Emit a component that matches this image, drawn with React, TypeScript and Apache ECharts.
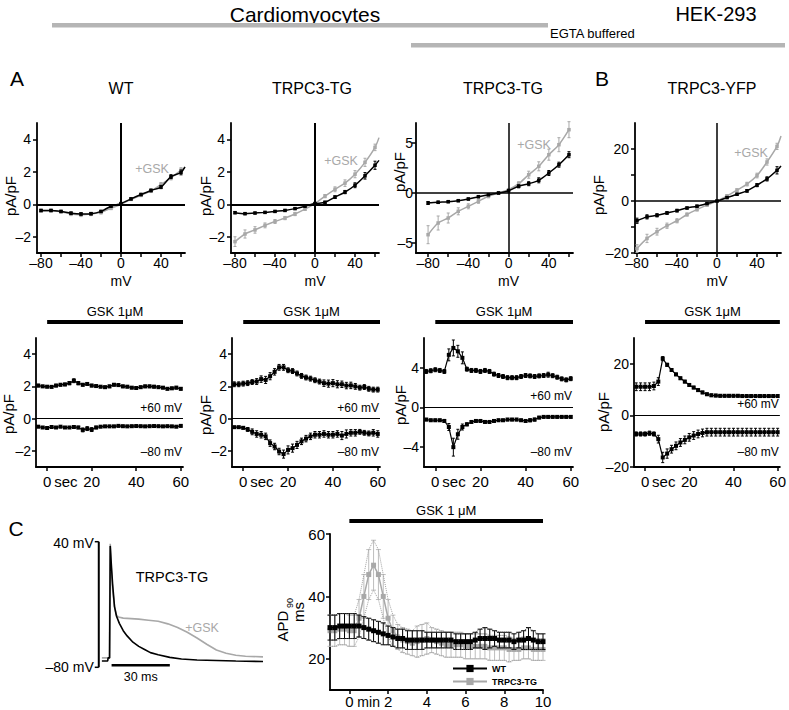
import React, { useEffect, useRef } from "react";
import * as echarts from "echarts";

const FONT = '"Liberation Sans", Arial, Helvetica, sans-serif';
const INK = "#000000";
const GREY = "#a8a8a8";
const BAR_GREY = "#b5b5b5";

// ---------- Panels A/B : current-voltage relations ----------
const V_MV = [-80, -70, -60, -50, -40, -30, -20, -10, 0, 10, 20, 30, 40, 50, 60];

const WT_CTRL = [-0.38, -0.38, -0.44, -0.55, -0.6, -0.58, -0.44, -0.12, 0.04, 0.33, 0.6, 0.85, 1.06, 1.7, 1.96];
const WT_CTRL_ERR = [0.06, 0.06, 0.06, 0.07, 0.07, 0.07, 0.06, 0.06, 0.05, 0.06, 0.07, 0.08, 0.1, 0.12, 0.15];
const WT_GSK = [-0.42, -0.4, -0.46, -0.6, -0.64, -0.6, -0.5, -0.25, 0.0, 0.3, 0.55, 0.82, 1.22, 1.62, 2.1];
const WT_GSK_ERR = [0.08, 0.08, 0.08, 0.1, 0.12, 0.1, 0.1, 0.08, 0.05, 0.06, 0.08, 0.1, 0.12, 0.12, 0.15];
const WT_CTRL_EDGE = [64, 2.3];
const WT_GSK_EDGE = [64, 2.25];

const TG_CTRL = [-0.52, -0.58, -0.54, -0.5, -0.44, -0.38, -0.27, -0.12, 0.04, 0.12, 0.44, 0.75, 1.17, 1.75, 2.4];
const TG_CTRL_ERR = [0.06, 0.06, 0.05, 0.05, 0.05, 0.05, 0.05, 0.05, 0.05, 0.06, 0.08, 0.1, 0.15, 0.2, 0.25];
const TG_GSK = [-2.3, -1.83, -1.58, -1.3, -1.06, -0.85, -0.6, -0.3, 0.04, 0.5, 0.92, 1.3, 1.85, 2.58, 3.5];
const TG_GSK_ERR = [0.3, 0.25, 0.2, 0.15, 0.12, 0.1, 0.1, 0.08, 0.05, 0.1, 0.15, 0.2, 0.22, 0.25, 0.2];
const TG_CTRL_EDGE = [64, 2.7];
const TG_GSK_EDGE = [64, 4.1];

const EG_CTRL = [-1.0, -0.93, -0.87, -0.77, -0.6, -0.37, -0.17, 0.0, 0.23, 0.67, 0.93, 1.27, 2.0, 2.83, 3.83];
const EG_CTRL_ERR = [0.15, 0.12, 0.1, 0.1, 0.1, 0.1, 0.1, 0.1, 0.1, 0.15, 0.2, 0.25, 0.25, 0.25, 0.3];
const EG_GSK = [-4.17, -3.0, -2.5, -1.83, -1.33, -0.83, -0.33, 0.0, 0.33, 0.93, 1.83, 2.67, 3.83, 4.83, 6.33];
const EG_GSK_ERR = [0.9, 0.7, 0.5, 0.35, 0.25, 0.2, 0.15, 0.1, 0.1, 0.2, 0.35, 0.45, 0.55, 0.7, 0.8];

const YFP_CTRL = [-7.6, -6.1, -5.5, -4.6, -3.7, -2.7, -2.0, -1.0, 0.0, 1.3, 2.6, 3.9, 6.1, 8.5, 11.8];
const YFP_CTRL_ERR = [1.0, 0.8, 0.6, 0.5, 0.5, 0.4, 0.4, 0.3, 0.2, 0.3, 0.4, 0.5, 0.6, 0.8, 1.4];
const YFP_GSK = [-18.3, -14.4, -11.8, -9.5, -7.6, -5.2, -3.3, -1.6, 0.0, 2.0, 4.2, 6.5, 9.8, 15.0, 21.0];
const YFP_GSK_ERR = [1.5, 1.6, 1.3, 1.0, 0.8, 0.6, 0.5, 0.3, 0.2, 0.3, 0.5, 0.7, 0.9, 1.2, 1.2];
const YFP_CTRL_EDGE = [64, 13.5];
const YFP_GSK_EDGE = [64, 25];

// ---------- time courses (+60 / -80 mV) ----------
const TIME_S = [-4, -2, 0, 2, 4, 6, 8, 10, 12, 14, 16, 18, 20, 22, 24, 26, 28, 30, 32, 34, 36, 38, 40, 42, 44, 46, 48, 50, 52, 54, 56, 58, 60];

const WT_P60 = [2.05, 2.0, 1.98, 1.97, 2.05, 2.1, 2.12, 2.2, 2.35, 2.2, 2.1, 2.15, 2.05, 2.02, 1.98, 1.95, 2.0, 2.1, 2.08, 2.0, 1.98, 1.92, 1.9, 1.95, 2.0, 2.0, 1.98, 1.95, 1.92, 1.85, 1.88, 1.92, 1.85];
const WT_P60_ERR = [0.08, 0.07, 0.07, 0.07, 0.08, 0.08, 0.08, 0.1, 0.12, 0.1, 0.08, 0.08, 0.08, 0.07, 0.07, 0.07, 0.08, 0.08, 0.08, 0.08, 0.07, 0.07, 0.07, 0.07, 0.08, 0.08, 0.08, 0.07, 0.07, 0.07, 0.07, 0.08, 0.08];
const WT_M80 = [-0.5, -0.55, -0.58, -0.52, -0.55, -0.5, -0.55, -0.55, -0.52, -0.55, -0.7, -0.62, -0.68, -0.55, -0.5, -0.48, -0.48, -0.48, -0.45, -0.47, -0.48, -0.47, -0.46, -0.47, -0.48, -0.47, -0.46, -0.47, -0.48, -0.47, -0.48, -0.5, -0.45];
const WT_M80_ERR = [0.06, 0.06, 0.06, 0.06, 0.06, 0.06, 0.06, 0.06, 0.06, 0.08, 0.12, 0.12, 0.12, 0.08, 0.06, 0.06, 0.06, 0.06, 0.06, 0.06, 0.06, 0.06, 0.06, 0.06, 0.06, 0.06, 0.06, 0.06, 0.06, 0.06, 0.06, 0.06, 0.06];

const TG_P60 = [2.13, 2.13, 2.17, 2.2, 2.27, 2.3, 2.45, 2.4, 2.63, 2.9, 3.18, 3.18, 3.0, 2.95, 2.8, 2.65, 2.55, 2.48, 2.38, 2.3, 2.2, 2.17, 2.2, 2.13, 2.13, 2.05, 2.06, 2.0, 1.92, 1.96, 1.85, 1.8, 1.8];
const TG_P60_ERR = [0.15, 0.15, 0.15, 0.15, 0.15, 0.18, 0.2, 0.22, 0.22, 0.2, 0.18, 0.18, 0.15, 0.15, 0.15, 0.15, 0.15, 0.15, 0.15, 0.15, 0.2, 0.22, 0.22, 0.22, 0.2, 0.2, 0.2, 0.18, 0.15, 0.15, 0.15, 0.15, 0.15];
const TG_M80 = [-0.53, -0.53, -0.57, -0.67, -0.82, -0.95, -1.0, -1.1, -1.52, -1.73, -2.04, -2.2, -1.94, -1.83, -1.63, -1.41, -1.24, -1.1, -1.0, -1.0, -0.95, -1.0, -1.0, -0.95, -1.05, -0.95, -0.88, -0.88, -0.82, -0.88, -0.92, -0.88, -0.95];
const TG_M80_ERR = [0.05, 0.05, 0.08, 0.12, 0.18, 0.2, 0.2, 0.2, 0.2, 0.2, 0.2, 0.25, 0.25, 0.25, 0.22, 0.2, 0.2, 0.2, 0.2, 0.2, 0.2, 0.2, 0.2, 0.2, 0.25, 0.25, 0.2, 0.2, 0.15, 0.15, 0.15, 0.2, 0.2];

const EG_P60 = [3.63, 3.7, 3.8, 3.73, 3.63, 5.3, 6.0, 5.66, 5.0, 3.86, 3.73, 3.73, 3.63, 3.73, 3.63, 3.36, 3.22, 3.12, 3.0, 3.0, 3.0, 3.12, 3.22, 3.18, 3.12, 3.18, 3.22, 3.3, 3.2, 3.05, 2.88, 2.78, 2.9];
const EG_P60_ERR = [0.2, 0.2, 0.2, 0.2, 0.2, 0.6, 0.8, 0.6, 0.6, 0.2, 0.2, 0.2, 0.2, 0.2, 0.2, 0.2, 0.2, 0.2, 0.2, 0.2, 0.2, 0.2, 0.2, 0.2, 0.2, 0.2, 0.2, 0.25, 0.2, 0.2, 0.2, 0.2, 0.2];
const EG_M80 = [-1.22, -1.29, -1.29, -1.29, -1.36, -1.97, -4.0, -2.7, -1.97, -1.7, -1.46, -1.36, -1.36, -1.46, -1.46, -1.36, -1.29, -1.29, -1.22, -1.22, -1.22, -1.29, -1.36, -1.29, -1.22, -1.02, -0.95, -0.95, -0.95, -0.95, -0.95, -0.95, -0.95];
const EG_M80_ERR = [0.12, 0.12, 0.12, 0.12, 0.15, 0.35, 0.9, 0.5, 0.3, 0.15, 0.12, 0.12, 0.12, 0.12, 0.12, 0.12, 0.12, 0.12, 0.12, 0.12, 0.12, 0.12, 0.12, 0.15, 0.15, 0.12, 0.12, 0.12, 0.12, 0.12, 0.12, 0.12, 0.12];

const YFP_P60 = [11.1, 11.1, 11.1, 11.1, 11.4, 13.1, 22.0, 19.6, 17.6, 15.9, 14.4, 13.1, 11.8, 10.8, 9.8, 8.9, 8.2, 7.8, 7.7, 7.6, 7.6, 7.6, 7.6, 7.6, 7.5, 7.5, 7.5, 7.5, 7.5, 7.5, 7.5, 7.5, 7.5];
const YFP_P60_ERR = [1.5, 1.5, 1.5, 1.5, 1.5, 1.5, 0.8, 0.6, 0.5, 0.5, 0.5, 0.5, 0.5, 0.5, 0.5, 0.5, 0.5, 0.5, 0.5, 0.5, 0.5, 0.5, 0.5, 0.5, 0.5, 0.5, 0.5, 0.5, 0.5, 0.5, 0.5, 0.5, 0.5];
const YFP_M80 = [-7.2, -7.2, -7.2, -6.9, -7.2, -9.2, -16.3, -14.8, -13.1, -11.8, -10.5, -9.5, -8.5, -7.8, -7.2, -6.8, -6.5, -6.5, -6.5, -6.5, -6.5, -6.5, -6.5, -6.5, -6.5, -6.5, -6.5, -6.5, -6.5, -6.5, -6.5, -6.5, -6.5];
const YFP_M80_ERR = [0.8, 0.8, 0.8, 0.8, 0.8, 1.5, 2.0, 1.8, 1.5, 1.5, 1.5, 1.5, 1.5, 1.5, 1.5, 1.5, 1.5, 1.5, 1.5, 1.5, 1.5, 1.5, 1.5, 1.5, 1.5, 1.5, 1.5, 1.5, 1.5, 1.5, 1.5, 1.5, 1.5];

// ---------- Panel C : action potentials ----------
const AP_T_CTRL = [1, 4, 4.2, 5, 5.3, 5.8, 6.5, 7.5, 8.5, 10, 12, 14, 17, 20, 23, 26, 30, 36, 42, 50, 60, 70, 84];
const AP_V_CTRL = [-74, -74, -71, -71, 36, 20, 0, -22, -31, -38, -45, -50, -56, -60, -63, -66, -68, -70.5, -72, -73, -73.5, -74, -74.5];
const AP_T_GSK = [1, 4.8, 5.3, 5.8, 6.5, 7.5, 8.5, 9.5, 12, 16, 20, 25, 30, 35, 40, 45, 50, 55, 60, 65, 70, 75, 84];
const AP_V_GSK = [-71, -71, 38, 15, -5, -22, -30, -32, -33, -33.5, -34, -35, -36, -38.5, -42, -46.5, -52, -58, -63.5, -66.5, -68.5, -69.5, -70];

// ---------- Panel C : APD90 time course ----------
const T_MIN = [-1, -0.75, -0.5, -0.25, 0, 0.25, 0.5, 0.75, 1, 1.25, 1.5, 1.75, 2, 2.25, 2.5, 2.75, 3, 3.25, 3.5, 3.75, 4, 4.25, 4.5, 4.75, 5, 5.25, 5.5, 5.75, 6, 6.25, 6.5, 6.75, 7, 7.25, 7.5, 7.75, 8, 8.25, 8.5, 8.75, 9, 9.25, 9.5, 9.75, 10];
const APD_WT = [30, 30, 30.5, 30.5, 30.5, 30.5, 30.5, 30, 29.5, 29, 28.5, 28, 27.5, 27, 26.5, 26.5, 26, 26, 26, 26, 26, 26, 26, 26, 26, 26, 25.5, 25.5, 25.5, 25.5, 26, 26.5, 26.5, 26.5, 26.5, 26, 26, 26, 25.5, 26, 26, 26.5, 26, 25.5, 25.5];
const APD_WT_ERR = [4, 4, 4, 4, 4, 4, 3.5, 3.5, 3.5, 3.5, 3.5, 3.5, 3, 3, 3, 3, 3, 3, 3, 3, 2.5, 2.5, 2.5, 2.5, 2.5, 2.5, 2.5, 2.5, 2.5, 2.5, 2.5, 3, 3.5, 3, 2.5, 2.5, 2.5, 2.5, 2.5, 2.5, 3, 3.5, 3, 2.5, 2.5];
const APD_TG = [29, 29, 29.5, 29.5, 29, 29, 33, 40, 47, 50, 47, 40, 33, 29, 27, 26, 25.5, 25, 25.5, 26, 26.5, 26, 25.5, 25, 24.5, 24.5, 24.5, 24.5, 24, 24, 24, 24, 24, 23.5, 23.5, 23.5, 23.5, 23, 23, 23, 23.5, 23.5, 23, 23, 23];
const APD_TG_ERR = [5, 5, 5, 5, 5, 5, 6, 7, 8, 8, 8, 7, 6, 5, 4, 4, 4, 4, 5, 5, 5, 4, 4, 4, 4, 4, 4, 4, 4, 4, 4, 4, 4, 4, 4, 4, 4, 4, 3.5, 3.5, 3.5, 3.5, 3.5, 3.5, 3.5];

// ---------- helpers ----------
const fmtNum = (v: number) => (v < 0 ? "\u2013" + Math.abs(v) : String(v));

function xAxisCfg(g: number, min: number, max: number, ticks: number[], labels: number[], fontSize: number, margin: number) {
  return {
    type: "value", gridIndex: g, min, max, position: "bottom",
    axisLine: { show: true, onZero: false, lineStyle: { color: INK, width: 1.8 } },
    axisTick: { show: true, customValues: ticks, length: 4, lineStyle: { color: INK, width: 1.5 } },
    axisLabel: { show: true, customValues: labels, formatter: fmtNum, fontSize, color: INK, fontFamily: FONT, margin },
    splitLine: { show: false },
  };
}
function yAxisCfg(g: number, min: number, max: number, ticks: number[], labels: number[], fontSize: number, margin: number) {
  return {
    type: "value", gridIndex: g, min, max, position: "left",
    axisLine: { show: true, onZero: false, lineStyle: { color: INK, width: 1.8 } },
    axisTick: { show: true, customValues: ticks, length: 4, lineStyle: { color: INK, width: 1.5 } },
    axisLabel: { show: true, customValues: labels, formatter: fmtNum, fontSize, color: INK, fontFamily: FONT, margin },
    splitLine: { show: false },
  };
}
function hiddenAxis(g: number, min: number, max: number) {
  return { type: "value", gridIndex: g, min, max, show: false, splitLine: { show: false } };
}

function lineSeries(g: number, xs: number[], ys: number[], color: string, opts: any = {}) {
  const data: any[] = xs.map((x, i) => [x, ys[i]]);
  if (opts.edge) data.push({ value: opts.edge, symbol: "none" });
  return {
    type: "line", name: opts.name, xAxisIndex: g, yAxisIndex: g, data,
    symbol: opts.symbol === undefined ? "rect" : opts.symbol, symbolSize: opts.size || 4,
    smooth: opts.smooth || false,
    lineStyle: { color, width: opts.width || 1.5, type: opts.type || "solid" },
    itemStyle: { color }, z: opts.z || 3, silent: true,
    markLine: opts.markLine,
  };
}

function errSeries(g: number, xs: number[], ys: number[], es: number[], color: string, cap: number, lw = 1, z = 2) {
  return {
    type: "custom", xAxisIndex: g, yAxisIndex: g, silent: true, z,
    data: xs.map((x, i) => [x, ys[i], es[i]]),
    renderItem: (_p: any, api: any) => {
      const x = api.value(0), y = api.value(1), e = api.value(2);
      const a = api.coord([x, y + e]);
      const b = api.coord([x, y - e]);
      const st = { stroke: color, lineWidth: lw };
      return {
        type: "group",
        children: [
          { type: "line", shape: { x1: a[0], y1: a[1], x2: b[0], y2: b[1] }, style: st },
          { type: "line", shape: { x1: a[0] - cap, y1: a[1], x2: a[0] + cap, y2: a[1] }, style: st },
          { type: "line", shape: { x1: b[0] - cap, y1: b[1], x2: b[0] + cap, y2: b[1] }, style: st },
        ],
      };
    },
  };
}

const zeroLines = (w: number, both: boolean) => ({
  silent: true, symbol: ["none", "none"], label: { show: false },
  lineStyle: { color: INK, type: "solid", width: w },
  data: both ? [{ xAxis: 0 }, { yAxis: 0 }] : [{ yAxis: 0 }],
});

function ivSeries(g: number, ctrl: number[], ctrlErr: number[], gsk: number[], gskErr: number[], ctrlEdge: number[] | null, gskEdge: number[] | null, w: number) {
  return [
    lineSeries(g, V_MV, gsk, GREY, { edge: gskEdge, smooth: 0.3, size: 3.5, z: 3, markLine: zeroLines(w, true) }),
    errSeries(g, V_MV, gsk, gskErr, GREY, 1.5, 1, 3),
    lineSeries(g, V_MV, ctrl, INK, { edge: ctrlEdge, smooth: 0.3, size: 3.5, z: 4 }),
    errSeries(g, V_MV, ctrl, ctrlErr, INK, 1.5, 1, 4),
  ];
}

function tSeries(g: number, p60: number[], p60e: number[], m80: number[], m80e: number[]) {
  return [
    lineSeries(g, TIME_S, p60, INK, { size: 4, width: 1.2, markLine: zeroLines(1.2, false) }),
    errSeries(g, TIME_S, p60, p60e, INK, 1.5, 1),
    lineSeries(g, TIME_S, m80, INK, { size: 4, width: 1.2 }),
    errSeries(g, TIME_S, m80, m80e, INK, 1.5, 1),
  ];
}

function buildOption() {
  const grids = [
    { left: 37, top: 123, width: 148, height: 130 },
    { left: 231, top: 123, width: 148, height: 130 },
    { left: 416, top: 123, width: 157, height: 130 },
    { left: 635, top: 123, width: 146, height: 130 },
    { left: 36, top: 338, width: 147, height: 129 },
    { left: 232, top: 338, width: 148, height: 129 },
    { left: 424, top: 338, width: 149, height: 129 },
    { left: 634, top: 338, width: 148, height: 129 },
    { left: 98, top: 541.7, width: 165, height: 125.6 },
    { left: 330, top: 534, width: 213, height: 156 },
  ];
  const ivT = [-80, -60, -40, -20, 0, 20, 40, 60];
  const ivL = [-80, -40, 0, 40];
  const tT = [0, 20, 40, 60];
  const xAxis = [
    xAxisCfg(0, -84, 64, ivT, ivL, 14, 3),
    xAxisCfg(1, -84, 64, ivT, ivL, 14, 3),
    xAxisCfg(2, -92, 64, ivT, ivL, 14, 3),
    xAxisCfg(3, -82, 64, ivT, ivL, 14, 3),
    xAxisCfg(4, -5, 61, tT, tT, 15, 7),
    xAxisCfg(5, -5, 61, tT, tT, 15, 7),
    xAxisCfg(6, -5, 61, tT, tT, 15, 7),
    xAxisCfg(7, -5, 61, tT, tT, 15, 7),
    hiddenAxis(8, -1, 84),
    xAxisCfg(9, -1, 10, [0, 2, 4, 6, 8, 10], [0, 2, 4, 6, 8, 10], 15, 4),
  ];
  const yAxis = [
    yAxisCfg(0, -3, 5, [-2, 0, 2, 4], [-2, 0, 2, 4], 14, 6),
    yAxisCfg(1, -3, 5, [-2, 0, 2, 4], [-2, 0, 2, 4], 14, 6),
    yAxisCfg(2, -6, 7, [-5, 0, 5], [-5, 0, 5], 14, 3),
    yAxisCfg(3, -20, 30, [-20, -10, 0, 10, 20], [-20, 0, 20], 14, 6),
    yAxisCfg(4, -3, 5, [-2, 0, 2, 4], [-2, 0, 2, 4], 14, 5),
    yAxisCfg(5, -3, 5, [-2, 0, 2, 4], [-2, 0, 2, 4], 14, 5),
    yAxisCfg(6, -6, 7, [-4, 0, 4], [-4, 0, 4], 14, 5),
    yAxisCfg(7, -20, 30, [-20, 0, 20], [-20, 0, 20], 14, 5),
    hiddenAxis(8, -80, 40),
    yAxisCfg(9, 10, 60, [20, 40, 60], [20, 40, 60], 15, 5),
  ];
  const envelope = (m: number[], e: number[], s: number) => m.map((v, i) => v + s * e[i]);
  const series: any[] = [
    ...ivSeries(0, WT_CTRL, WT_CTRL_ERR, WT_GSK, WT_GSK_ERR, WT_CTRL_EDGE, WT_GSK_EDGE, 2),
    ...ivSeries(1, TG_CTRL, TG_CTRL_ERR, TG_GSK, TG_GSK_ERR, TG_CTRL_EDGE, TG_GSK_EDGE, 2),
    ...ivSeries(2, EG_CTRL, EG_CTRL_ERR, EG_GSK, EG_GSK_ERR, null, null, 1.5),
    ...ivSeries(3, YFP_CTRL, YFP_CTRL_ERR, YFP_GSK, YFP_GSK_ERR, YFP_CTRL_EDGE, YFP_GSK_EDGE, 1.5),
    ...tSeries(4, WT_P60, WT_P60_ERR, WT_M80, WT_M80_ERR),
    ...tSeries(5, TG_P60, TG_P60_ERR, TG_M80, TG_M80_ERR),
    ...tSeries(6, EG_P60, EG_P60_ERR, EG_M80, EG_M80_ERR),
    ...tSeries(7, YFP_P60, YFP_P60_ERR, YFP_M80, YFP_M80_ERR),
    lineSeries(8, AP_T_GSK, AP_V_GSK, GREY, { symbol: "none", width: 1.6, z: 3 }),
    lineSeries(8, AP_T_CTRL, AP_V_CTRL, INK, { symbol: "none", width: 1.6, z: 4 }),
    // APD90
    errSeries(9, T_MIN, APD_TG, APD_TG_ERR, "#bdbdbd", 2.5, 1, 2),
    lineSeries(9, T_MIN, envelope(APD_TG, APD_TG_ERR, 1), "#a0a0a0", { symbol: "none", width: 1, type: "dotted", z: 2 }),
    lineSeries(9, T_MIN, envelope(APD_TG, APD_TG_ERR, -1), "#a0a0a0", { symbol: "none", width: 1, type: "dotted", z: 2 }),
    lineSeries(9, T_MIN, APD_TG, GREY, { name: "TRPC3-TG", size: 5, width: 1.5, z: 3 }),
    errSeries(9, T_MIN, APD_WT, APD_WT_ERR, INK, 2.5, 1, 4),
    lineSeries(9, T_MIN, envelope(APD_WT, APD_WT_ERR, 1), "#444", { symbol: "none", width: 1, type: "dotted", z: 4 }),
    lineSeries(9, T_MIN, envelope(APD_WT, APD_WT_ERR, -1), "#444", { symbol: "none", width: 1, type: "dotted", z: 4 }),
    lineSeries(9, T_MIN, APD_WT, INK, { name: "WT", size: 5, width: 1.5, z: 5 }),
  ];
  return {
    animation: false,
    backgroundColor: "#ffffff",
    textStyle: { fontFamily: FONT, color: INK },
    grid: grids.map((g) => ({ ...g, containLabel: false })),
    xAxis, yAxis, series,
    legend: {
      data: ["WT", "TRPC3-TG"], left: 452, top: 664, orient: "vertical",
      itemWidth: 34, itemHeight: 9, itemGap: 4, padding: 0, selectedMode: false,
      textStyle: { fontSize: 9, fontWeight: "bold", color: INK, fontFamily: FONT },
    },
  };
}

function txt(x: number, y: number, text: string, size: number, o: any = {}) {
  return {
    type: "text", x, y, silent: true, rotation: o.rot || 0, z: 50,
    style: {
      text, fill: o.color || INK, fontSize: size, fontFamily: FONT, fontWeight: o.weight || "normal",
      textAlign: o.align || "center", align: o.align || "center",
      textVerticalAlign: "middle", verticalAlign: "middle",
    },
  };
}
const rect = (x: number, y: number, w: number, h: number, fill: string) => ({ type: "rect", z: 50, silent: true, shape: { x, y, width: w, height: h }, style: { fill } });
const seg = (x1: number, y1: number, x2: number, y2: number, lw: number, stroke = INK) => ({ type: "line", z: 50, silent: true, shape: { x1, y1, x2, y2 }, style: { stroke, lineWidth: lw } });

function buildGraphics(chart: any) {
  const px = (g: number, x: number, y: number) => chart.convertToPixel({ xAxisIndex: g, yAxisIndex: g }, [x, y]) as number[];
  const R = Math.PI / 2;
  const els: any[] = [
    txt(305, 14, "Cardiomyocytes", 21),
    rect(52, 23, 496, 4.5, BAR_GREY),
    txt(716, 14, "HEK-293", 20),
    txt(550, 33, "EGTA buffered", 13, { align: "left" }),
    rect(411, 43, 374, 4.5, BAR_GREY),
    txt(17, 78, "A", 21),
    txt(602, 78, "B", 21),
    txt(16, 528, "C", 21),
    txt(121, 88, "WT", 16),
    txt(312, 88, "TRPC3-TG", 16),
    txt(503, 88, "TRPC3-TG", 16),
    txt(712, 88, "TRPC3-YFP", 16),
    txt(10, 196, "pA/pF", 15, { rot: R }),
    txt(205, 196, "pA/pF", 15, { rot: R }),
    txt(399, 172, "pA/pF", 15, { rot: R }),
    txt(598, 195, "pA/pF", 15, { rot: R }),
    txt(8, 414, "pA/pF", 15, { rot: R }),
    txt(205, 415, "pA/pF", 15, { rot: R }),
    txt(400, 405, "pA/pF", 15, { rot: R }),
    txt(603, 412, "pA/pF", 15, { rot: R }),
    txt(152, 169, "+GSK", 12.5, { color: GREY }),
    txt(341, 161, "+GSK", 12.5, { color: GREY }),
    txt(534, 145, "+GSK", 12.5, { color: GREY }),
    txt(751, 153, "+GSK", 12.5, { color: GREY }),
    txt(172, 577, "TRPC3-TG", 14.5),
    txt(202, 628, "+GSK", 12.5, { color: GREY }),
    txt(282, 626, "APD", 15, { rot: R }),
    txt(290, 603, "90", 9, { rot: R }),
    txt(298, 612, "ms", 15, { rot: R }),
  ];
  // mV axis names at V = 0
  for (const g of [0, 1, 2, 3]) {
    const z = px(g, 0, 0);
    els.push(txt(z[0], 281, "mV", 14));
  }
  // time course decorations
  const yMin: Record<number, number> = { 4: -3, 5: -3, 6: -6, 7: -20 };
  for (const g of [4, 5, 6, 7]) {
    const a = px(g, 0, 0);
    const e = px(g, 61, 0);
    const b = px(g, 0, yMin[g]);
    els.push(rect(a[0], 320, e[0] - a[0], 4, INK));
    els.push(txt((a[0] + e[0]) / 2, 311, "GSK 1\u03bcM", 13));
    els.push(txt(a[0] + 7, b[1] + 14.5, "sec", 15, { align: "left" }));
    els.push(txt(e[0] - 1, a[1] - 11, "+60 mV", 12, { align: "right" }));
    els.push(txt(e[0] - 1, b[1] - 15, "\u201380 mV", 12, { align: "right" }));
  }
  // APD decorations
  {
    const a = px(9, 0, 10);
    const e = px(9, 10, 10);
    els.push(rect(a[0], 519, e[0] - a[0], 4, INK));
    els.push(txt((a[0] + e[0]) / 2, 510, "GSK 1 \u03bcM", 13));
    els.push(txt(a[0] + 8, a[1] + 11.5, "min", 14, { align: "left" }));
  }
  // AP scale bars
  {
    const t = px(8, -0.6, 40);
    const b = px(8, -0.6, -80);
    els.push(seg(t[0], t[1], b[0], b[1], 2));
    els.push(seg(t[0] - 4, t[1], t[0], t[1], 1.5));
    els.push(seg(b[0] - 4, b[1], b[0], b[1], 1.5));
    els.push(txt(t[0] - 5, t[1] + 1, "40 mV", 14, { align: "right" }));
    els.push(txt(b[0] - 5, b[1], "\u201380 mV", 14, { align: "right" }));
    const s1 = px(8, 6, -78);
    const s2 = px(8, 36, -78);
    els.push(seg(s1[0], s1[1], s2[0], s2[1], 2.5));
    els.push(txt((s1[0] + s2[0]) / 2, s1[1] + 12, "30 ms", 12.5));
  }
  return els;
}

export default function App() {
  const ref = useRef<HTMLDivElement>(null);
  useEffect(() => {
    const el = ref.current;
    if (!el) return;
    const chart = echarts.init(el, null, { renderer: "svg" });
    chart.setOption(buildOption() as any);
    chart.setOption({ graphic: { elements: buildGraphics(chart) } } as any);
    return () => chart.dispose();
  }, []);
  return (
    <div
      ref={ref}
      style={{ position: "absolute", left: 0, top: 0, width: 789, height: 710, background: "#fff" }}
    />
  );
}
